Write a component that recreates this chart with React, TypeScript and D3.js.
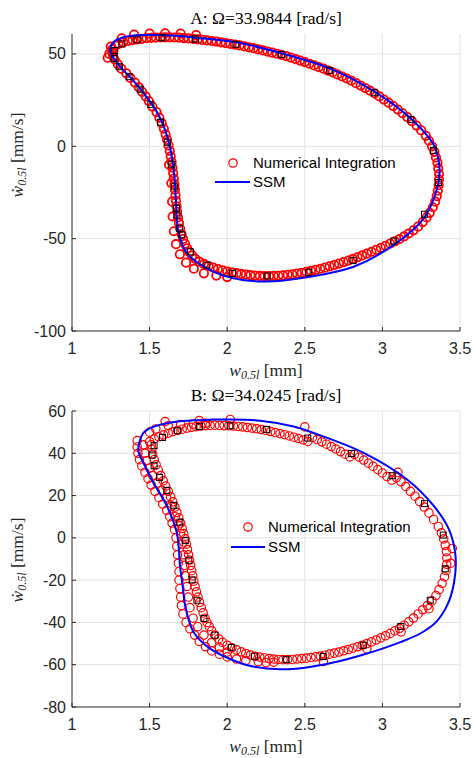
import React from "react";
import * as d3 from "d3";

type P = [number, number];

// ---------- shared ticks ----------
const xTicks = [1, 1.5, 2, 2.5, 3, 3.5];
const yTicksA = [-100, -50, 0, 50];
const yTicksB = [-80, -60, -40, -20, 0, 20, 40, 60];
const legendLabels = ["Numerical Integration", "SSM"];

// ---------- Panel A data ----------
const titleA = "A: Ω=33.9844 [rad/s]";

const ssmA: P[] = [
  [1.245, 51.5], [1.27, 56.5], [1.33, 59.0], [1.42, 60.1], [1.546, 60.3], [1.67, 59.8], [1.794, 58.8],
  [2.056, 56.3], [2.35, 50.4], [2.66, 42.2], [2.944, 29.9], [3.181, 15.2], [3.331, 0.7],
  [3.368, -11.9], [3.355, -22.0], [3.266, -39.0], [3.073, -53.4], [2.815, -65.2], [2.514, -70.9],
  [2.25, -73.2], [2.041, -71.5], [1.869, -66.1], [1.74, -57.9], [1.683, -45], [1.67, -30],
  [1.658, -15], [1.635, -2], [1.595, 10], [1.546, 18.7], [1.508, 23.5], [1.439, 31.2],
  [1.368, 38.0], [1.305, 43.5], [1.263, 48.3],
];

const squaresA: P[] = [
  [1.271, 47.6], [1.275, 51.8], [1.321, 55.4], [1.419, 57.6], [1.579, 58.8], [1.795, 58.1],
  [2.056, 55.2], [2.35, 49.7], [2.66, 41.1], [2.948, 29.0], [3.183, 14.6], [3.329, -2.2],
  [3.361, -19.6], [3.271, -36.8], [3.073, -51.3], [2.811, -61.9], [2.525, -68.2], [2.258, -70.2],
  [2.034, -68.8], [1.869, -64.3], [1.763, -57.1], [1.708, -48.0], [1.692, -44.4], [1.677, -37.2],
  [1.673, -33.6], [1.66, -21.9], [1.643, -9.7], [1.615, 2.2], [1.57, 13.0], [1.508, 22.7],
  [1.439, 30.9], [1.368, 37.7], [1.305, 43.1],
];

const numA: P[] = [
  [1.26, 52.5], [1.28, 54.5], [1.3, 55.5], [1.33, 56.3], [1.36, 57], [1.39, 57.5], [1.42, 57.9],
  [1.45, 58.2], [1.48, 58.5], [1.51, 58.7], [1.54, 58.8], [1.57, 58.9], [1.6, 59], [1.63, 59],
  [1.66, 58.9], [1.69, 58.8], [1.72, 58.6], [1.75, 58.4], [1.78, 58.2], [1.81, 57.9], [1.84, 57.6],
  [1.87, 57.3], [1.9, 57], [1.93, 56.7], [1.96, 56.3], [1.99, 55.9], [2.02, 55.5], [2.05, 55.1],
  [2.08, 54.6], [2.11, 54.1], [2.14, 53.6], [2.17, 53.1], [2.2, 52.5], [2.23, 51.9], [2.26, 51.3],
  [2.29, 50.7], [2.32, 50.1], [2.35, 49.5], [2.38, 48.8], [2.41, 48], [2.44, 47.2], [2.47, 46.4],
  [2.5, 45.6], [2.53, 44.7], [2.56, 43.8], [2.59, 42.9], [2.62, 42], [2.65, 41], [2.68, 40],
  [2.71, 38.9], [2.74, 37.8], [2.77, 36.7], [2.8, 35.5], [2.83, 34.2], [2.86, 32.9], [2.89, 31.5],
  [2.92, 30.1], [2.95, 28.6], [2.98, 27], [3.01, 25.3], [3.04, 23.6], [3.07, 21.8], [3.1, 19.9],
  [3.13, 17.9], [3.16, 15.8], [3.19, 13.6], [3.22, 11.2], [3.25, 8.6], [3.28, 5.7], [3.3, 3],
  [3.32, 0], [3.335, -3], [3.345, -6], [3.355, -9], [3.36, -12], [3.365, -15], [3.365, -18],
  [3.362, -21], [3.357, -24], [3.35, -27], [3.34, -30], [3.325, -33], [3.305, -36], [3.285, -38.5],
  [3.26, -41], [3.23, -43.5], [3.2, -45.5], [3.17, -47.2], [3.14, -48.8], [3.11, -50.2],
  [3.08, -51.5], [3.05, -52.7], [3.02, -53.9], [2.99, -55], [2.96, -56.1], [2.93, -57.1],
  [2.9, -58.1], [2.87, -59.1], [2.84, -60.1], [2.81, -61], [2.78, -61.9], [2.75, -62.7],
  [2.72, -63.5], [2.69, -64.3], [2.66, -65], [2.63, -65.7], [2.6, -66.3], [2.57, -66.9],
  [2.54, -67.5], [2.51, -68], [2.48, -68.5], [2.45, -68.9], [2.42, -69.3], [2.39, -69.6],
  [2.36, -69.9], [2.33, -70.1], [2.3, -70.2], [2.27, -70.3], [2.24, -70.3], [2.21, -70.2],
  [2.18, -70], [2.15, -69.8], [2.12, -69.5], [2.09, -69.1], [2.06, -68.7], [2.03, -68.3],
  [2.0, -67.8], [1.97, -67.2], [1.94, -66.5], [1.91, -65.7], [1.88, -64.8], [1.85, -63.7],
  [1.82, -62.4], [1.795, -60.9], [1.775, -59.2], [1.757, -57.3], [1.742, -55.2], [1.728, -52.8],
  [1.716, -50.2], [1.706, -47.5], [1.697, -44.5], [1.689, -41.5], [1.683, -38.5], [1.678, -35.5],
  [1.674, -32.5], [1.67, -29.5], [1.667, -26.5], [1.663, -23.5], [1.66, -20.5], [1.656, -17.5],
  [1.652, -14.5], [1.647, -11.5], [1.642, -8.5], [1.636, -5.5], [1.63, -2.5], [1.622, 0.5],
  [1.613, 3.5], [1.603, 6.5], [1.592, 9.5], [1.578, 12.5], [1.563, 15.5], [1.545, 18.5],
  [1.518, 21.5], [1.495, 24.5], [1.475, 27], [1.452, 29.5], [1.43, 32], [1.405, 34.5],
  [1.376, 37], [1.35, 39.5], [1.318, 42], [1.295, 44.5], [1.275, 47], [1.265, 49], [1.26, 51],
  // outer edge of the band
  [1.645, -30], [1.648, -38], [1.656, -46], [1.67, -53], [1.695, -58.5], [1.735, -63],
  [1.785, -66.3], [1.85, -68.8], [1.93, -70], [2.0, -70.8],
  [1.24, 50], [1.25, 54], [1.32, 58.5], [1.4, 60.5], [1.5, 61], [1.6, 61.2], [1.7, 61],
  [1.8, 60.2], [1.23, 48], [1.625, -10], [1.64, -20],
];

// ---------- Panel B data ----------
const titleB = "B: Ω=34.0245 [rad/s]";

const ssmB: P[] = [
  [1.428, 40.9], [1.435, 45.5], [1.46, 49.6], [1.5, 51.8], [1.568, 53.5], [1.68, 55.0],
  [1.783, 55.6], [1.89, 55.9], [1.998, 56.0], [2.213, 55.4], [2.428, 52.7], [2.557, 49.6],
  [2.879, 40.2], [3.159, 27.6], [3.331, 15.1], [3.428, 4.1], [3.471, -8.5], [3.462, -21],
  [3.42, -31.5], [3.35, -39.5], [3.25, -45], [3.116, -49.3], [2.901, -54.7], [2.684, -59.0],
  [2.5, -61.4], [2.342, -62.1], [2.15, -60.6], [2.041, -58.0], [1.89, -52.4], [1.783, -44.5],
  [1.729, -32.0], [1.715, -24], [1.697, -14], [1.675, 2.5], [1.611, 15.1], [1.525, 26.1],
  [1.46, 35.5],
];

const squaresB: P[] = [
  [1.516, 39.2], [1.529, 43.6], [1.583, 47.5], [1.679, 50.7], [1.821, 52.6], [2.019, 53.0],
  [2.254, 51.3], [2.519, 47.2], [2.8, 39.9], [3.063, 29.4], [3.271, 16.2], [3.392, 1.3],
  [3.405, -14.6], [3.308, -29.5], [3.119, -41.9], [2.877, -50.8], [2.619, -56.1], [2.379, -57.6],
  [2.176, -56.0], [2.026, -51.8], [1.921, -46.0], [1.85, -38.1], [1.805, -29.5], [1.774, -19.9],
  [1.753, -10.6], [1.73, -1.3], [1.695, 7.4], [1.656, 15.4], [1.611, 22.4], [1.563, 28.6],
  [1.529, 34.1],
];

const numB: P[] = [
  [1.5, 45.5], [1.53, 46.8], [1.56, 47.8], [1.59, 48.7], [1.62, 49.5], [1.65, 50.2], [1.68, 50.8],
  [1.71, 51.4], [1.74, 51.9], [1.77, 52.3], [1.8, 52.6], [1.83, 52.9], [1.86, 53.1], [1.89, 53.2],
  [1.92, 53.3], [1.95, 53.2], [1.98, 53.1], [2.01, 53], [2.04, 52.9], [2.07, 52.7], [2.1, 52.5],
  [2.13, 52.2], [2.16, 51.9], [2.19, 51.6], [2.22, 51.2], [2.25, 50.8], [2.28, 50.3], [2.31, 49.8],
  [2.34, 49.3], [2.37, 48.8], [2.4, 48.2], [2.43, 47.6], [2.46, 47], [2.49, 46.3], [2.52, 45.6],
  [2.55, 47.5], [2.58, 46.5], [2.61, 45.4], [2.64, 44.3], [2.67, 43.2], [2.7, 42], [2.73, 40.8],
  [2.76, 39.6], [2.79, 38.3], [2.82, 39.5], [2.85, 38.2], [2.88, 36.8], [2.91, 35.3], [2.94, 33.8],
  [2.97, 32.3], [3.0, 30.7], [3.03, 29], [3.06, 27.3], [3.09, 28.5], [3.12, 26.5], [3.15, 24.3],
  [3.18, 22], [3.21, 19.7], [3.24, 17.2], [3.27, 14.6], [3.3, 11.8], [3.33, 8.7], [3.36, 5.4],
  [3.38, 2.4], [3.395, -0.5], [3.405, -3.5], [3.412, -6.5], [3.415, -9.5], [3.415, -12.5],
  [3.41, -15.5], [3.4, -18.5], [3.385, -21.5], [3.365, -24.5], [3.345, -27.3], [3.32, -29.8],
  [3.29, -32], [3.26, -34], [3.23, -36], [3.2, -37.9], [3.17, -39.7], [3.14, -41.3], [3.11, -42.8],
  [3.08, -44], [3.05, -45.2], [3.02, -46.3], [2.99, -47.3], [2.96, -48.3], [2.93, -49.2],
  [2.9, -50], [2.87, -50.8], [2.84, -51.5], [2.81, -52.2], [2.78, -52.8], [2.75, -53.4],
  [2.72, -54], [2.69, -54.5], [2.66, -55], [2.63, -55.5], [2.6, -55.9], [2.57, -56.3],
  [2.54, -56.6], [2.51, -56.9], [2.48, -57.1], [2.45, -57.3], [2.42, -57.5], [2.39, -57.6],
  [2.36, -57.6], [2.33, -57.5], [2.3, -57.3], [2.27, -57.1], [2.24, -56.8], [2.21, -56.4],
  [2.18, -56], [2.15, -55.4], [2.12, -54.7], [2.09, -53.9], [2.06, -53], [2.03, -52], [2.0, -50.8],
  [1.97, -49.4], [1.945, -47.8], [1.92, -46], [1.9, -44], [1.885, -42], [1.87, -40], [1.857, -38],
  [1.845, -35.5], [1.833, -33], [1.822, -30.5], [1.812, -28], [1.802, -25.5], [1.793, -23],
  [1.785, -20.5], [1.778, -18], [1.771, -15.5], [1.765, -13], [1.758, -10.5], [1.751, -8],
  [1.744, -5.5], [1.737, -3], [1.729, -0.5], [1.72, 2], [1.71, 4.5], [1.7, 7], [1.688, 9.5],
  [1.676, 12], [1.663, 14.5], [1.65, 17], [1.635, 19.5], [1.62, 22], [1.604, 24.5], [1.588, 27],
  [1.572, 29.5], [1.556, 32], [1.542, 34.5], [1.53, 37], [1.52, 39.5], [1.515, 42], [1.51, 44],
  // upper edge of the top segment
  [1.5, 50], [1.54, 51.5], [1.62, 53], [1.7, 53.6], [1.78, 53.8], [1.86, 54.2],
  // outer (left) trains
  [1.42, 46], [1.42, 43], [1.425, 40], [1.435, 37], [1.45, 34], [1.47, 31], [1.49, 28], [1.51, 25],
  [1.535, 22], [1.56, 19], [1.585, 16], [1.61, 13], [1.63, 10], [1.645, 7], [1.66, 4], [1.67, 0],
  [1.675, -4], [1.68, -8], [1.685, -12], [1.69, -16], [1.69, -20], [1.695, -24], [1.7, -28],
  [1.705, -32], [1.715, -36], [1.735, -40], [1.76, -43], [1.79, -46], [1.82, -49], [1.86, -51.5],
  [1.9, -53.5], [1.95, -55], [2.0, -56.3], [2.06, -57.3], [2.12, -58], [2.2, -58.5], [2.3, -58.8],
  // middle band (left)
  [1.46, 44], [1.47, 40], [1.48, 36.5], [1.5, 33], [1.52, 29.5], [1.55, 26], [1.58, 22.5],
  [1.61, 19], [1.64, 15], [1.665, 10], [1.685, 6], [1.7, 2], [1.71, -3], [1.72, -8], [1.725, -13],
  [1.73, -18], [1.74, -23], [1.75, -28], [1.76, -33], [1.78, -38], [1.81, -42], [1.85, -46],
  [1.9, -49.5], [1.95, -52], [2.0, -54],
  // scattered outliers
  [2.62, -58.5], [2.9, -52.5], [3.12, -44.5], [3.3, -33.5], [3.44, -12], [3.45, -5], [2.25, -59],
  [1.6, 55], [1.82, 55.5], [2.02, 56], [2.5, 52.5], [3.1, 31],
];

const SANS = "'Liberation Sans', Arial, Helvetica, sans-serif";
const SERIF = "'Liberation Serif', 'Times New Roman', serif";
const AXIS = "#262626";
const GRID = "#e3e3e3";

interface PanelProps {
  title: string;
  yDomain: [number, number];
  yTicks: number[];
  top: number;
  bottom: number;
  ssm: P[];
  squares: P[];
  num: P[];
  circleStroke: number;
  legend: { cx: number; cy: number; tx: number; lx0: number; lx1: number; ly: number };
  ylabelY: number;
}

function Panel(p: PanelProps) {
  const left = 72;
  const right = 460;
  const x = d3.scaleLinear().domain([1, 3.5]).range([left, right]);
  const y = d3.scaleLinear().domain(p.yDomain).range([p.bottom, p.top]);
  const line = d3
    .line<P>()
    .x((d) => x(d[0]))
    .y((d) => y(d[1]))
    .curve(d3.curveCatmullRomClosed.alpha(0.5));
  const cx = (left + right) / 2;
  const sq = 6;
  return (
    <g>
      {xTicks.filter((t) => t > 1).map((t) => (
        <line key={"gx" + t} x1={x(t)} x2={x(t)} y1={p.top} y2={p.bottom} stroke={GRID} strokeWidth={1} />
      ))}
      {p.yTicks.filter((t) => t > p.yDomain[0]).map((t) => (
        <line key={"gy" + t} x1={left} x2={right} y1={y(t)} y2={y(t)} stroke={GRID} strokeWidth={1} />
      ))}
      {p.num.map((d, i) => (
        <circle key={"c" + i} cx={x(d[0])} cy={y(d[1])} r={4.2} fill="none" stroke="#ff0000" strokeWidth={p.circleStroke} />
      ))}
      <path d={line(p.ssm) || ""} fill="none" stroke="#0000ff" strokeWidth={2} />
      {p.squares.map((d, i) => (
        <rect key={"s" + i} x={x(d[0]) - sq / 2} y={y(d[1]) - sq / 2} width={sq} height={sq} fill="none" stroke="#000" strokeWidth={1} />
      ))}
      <line x1={left} x2={right} y1={p.bottom} y2={p.bottom} stroke={AXIS} strokeWidth={1} />
      <line x1={left} x2={left} y1={p.top} y2={p.bottom} stroke={AXIS} strokeWidth={1} />
      {xTicks.map((t) => (
        <g key={"xt" + t}>
          <line x1={x(t)} x2={x(t)} y1={p.bottom} y2={p.bottom - 4} stroke={AXIS} />
          <text x={x(t)} y={p.bottom + 23} textAnchor="middle" fontFamily={SANS} fontSize={16} fill={AXIS}>
            {t}
          </text>
        </g>
      ))}
      {p.yTicks.map((t) => (
        <g key={"yt" + t}>
          <line x1={left} x2={left + 4} y1={y(t)} y2={y(t)} stroke={AXIS} />
          <text x={left - 6} y={y(t) + 5.5} textAnchor="end" fontFamily={SANS} fontSize={16} fill={AXIS}>
            {t}
          </text>
        </g>
      ))}
      <text x={cx} y={p.top - 10} textAnchor="middle" fontFamily={SERIF} fontSize={17.5} fill="#000">
        {p.title}
      </text>
      <text x={cx} y={p.bottom + 45} textAnchor="middle" fontFamily={SERIF} fontSize={17.5} fill={AXIS}>
        <tspan fontStyle="italic">w</tspan>
        <tspan fontSize={12} dy={3} fontStyle="italic">0.5l</tspan>
        <tspan dy={-3}>{"  [mm]"}</tspan>
      </text>
      <text
        transform={`translate(23,${p.ylabelY}) rotate(-90)`}
        textAnchor="middle"
        fontFamily={SERIF}
        fontSize={17.5}
        fill={AXIS}
      >
        <tspan fontStyle="italic">ẇ</tspan>
        <tspan fontSize={12} dy={3} fontStyle="italic">0.5l</tspan>
        <tspan dy={-3}>{"  [mm/s]"}</tspan>
      </text>
      <circle cx={p.legend.cx} cy={p.legend.cy} r={4.2} fill="none" stroke="#ff0000" strokeWidth={1.2} />
      <text x={p.legend.tx} y={p.legend.cy + 5} fontFamily={SANS} fontSize={15} fill="#000">
        {legendLabels[0]}
      </text>
      <line x1={p.legend.lx0} x2={p.legend.lx1} y1={p.legend.ly} y2={p.legend.ly} stroke="#0000ff" strokeWidth={2} />
      <text x={p.legend.tx} y={p.legend.ly + 5} fontFamily={SANS} fontSize={15} fill="#000">
        {legendLabels[1]}
      </text>
    </g>
  );
}

export default function App() {
  return (
    <svg width={474} height={758} style={{ position: "absolute", left: 0, top: 0, background: "#fff" }}>
      <rect width={474} height={758} fill="#fff" />
      <Panel
        title={titleA}
        yDomain={[-100, 60.8]}
        yTicks={yTicksA}
        top={34}
        bottom={331}
        ssm={ssmA}
        squares={squaresA}
        num={numA}
        circleStroke={1.8}
        legend={{ cx: 233, cy: 163, tx: 253, lx0: 215, lx1: 250, ly: 182 }}
        ylabelY={155}
      />
      <Panel
        title={titleB}
        yDomain={[-80, 60]}
        yTicks={yTicksB}
        top={411}
        bottom={707}
        ssm={ssmB}
        squares={squaresB}
        num={numB}
        circleStroke={1.2}
        legend={{ cx: 248, cy: 527, tx: 268, lx0: 231, lx1: 265, ly: 547 }}
        ylabelY={560}
      />
    </svg>
  );
}
